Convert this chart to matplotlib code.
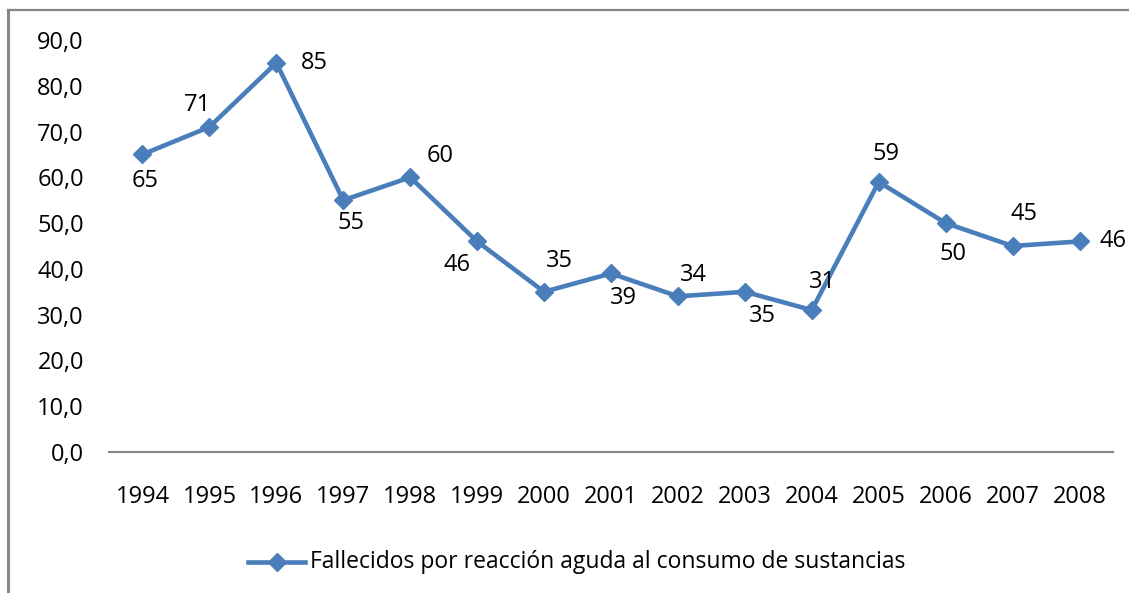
import matplotlib
matplotlib.use("Agg")
import matplotlib.pyplot as plt
from matplotlib.lines import Line2D

years = ["1994", "1995", "1996", "1997", "1998", "1999", "2000", "2001",
         "2002", "2003", "2004", "2005", "2006", "2007", "2008"]
deaths = [65, 71, 85, 55, 60, 46, 35, 39, 34, 35, 31, 59, 50, 45, 46]
series_name = "Fallecidos por reacción aguda al consumo de sustancias"
y_ticks = [0, 10, 20, 30, 40, 50, 60, 70, 80, 90]

# label offsets (pixels) relative to each point
label_offsets = [(3, -27), (-12, 22), (38, 0), (8, -23), (30, 21), (-20, -24),
                 (15, 31), (12, -25), (16, 21), (18, -24), (11, 28), (7, 28),
                 (7, -31), (11, 32), (33, 0)]

W, H = 1129, 593
fig = plt.figure(figsize=(W / 100, H / 100), dpi=100)
fig.patch.set_facecolor("white")
plt.rcParams["font.family"] = ["Open Sans", "DejaVu Sans"]

ax = fig.add_axes([109 / W, 1 - 452 / H, (1113 - 109) / W, (452 - 40) / H])
ax.set_facecolor("white")

color = "#4A7EBB"
x = list(range(len(years)))
ax.plot(x, deaths, color=color, lw=3.3, marker="D", ms=9.5,
        markerfacecolor=color, markeredgecolor=color, solid_joinstyle="round")

for xi, v, (dx, dy) in zip(x, deaths, label_offsets):
    ax.annotate(f"{v}", (xi, v), xytext=(dx * 0.72, dy * 0.72),
                textcoords="offset points", ha="center", va="center",
                fontsize=17, color="black")

ax.set_xlim(-0.5, len(years) - 0.5)
ax.set_ylim(0, 90)
ax.set_xticks(x)
ax.set_xticklabels(years)
ax.set_yticks(y_ticks)
ax.set_yticklabels([f"{t:.1f}".replace(".", ",") for t in y_ticks])
ax.tick_params(axis="both", length=0, labelsize=17, colors="black")
ax.tick_params(axis="x", pad=24)
ax.tick_params(axis="y", pad=18)

for s in ["left", "right", "top"]:
    ax.spines[s].set_visible(False)
ax.spines["bottom"].set_color("#868686")
ax.spines["bottom"].set_linewidth(1.5)

# legend entry
ly = 1 - 562 / H
fig.add_artist(Line2D([248 / W, 305 / W], [ly, ly], color=color, lw=3.3,
                      transform=fig.transFigure))
fig.add_artist(Line2D([277 / W], [ly], color=color, marker="D", ms=9.5,
                      transform=fig.transFigure))
fig.text(310 / W, ly, series_name, ha="left", va="center", fontsize=16.5,
         color="black")

# outer chart frame (left and top edges)
fig.add_artist(Line2D([7.5 / W, 7.5 / W], [0, 1 - 10 / H], color="#868686",
                      lw=2.2, transform=fig.transFigure))
fig.add_artist(Line2D([7.5 / W, 1], [1 - 10 / H, 1 - 10 / H], color="#868686",
                      lw=1.6, transform=fig.transFigure))

fig.savefig("out.png", dpi=100, facecolor="white")
